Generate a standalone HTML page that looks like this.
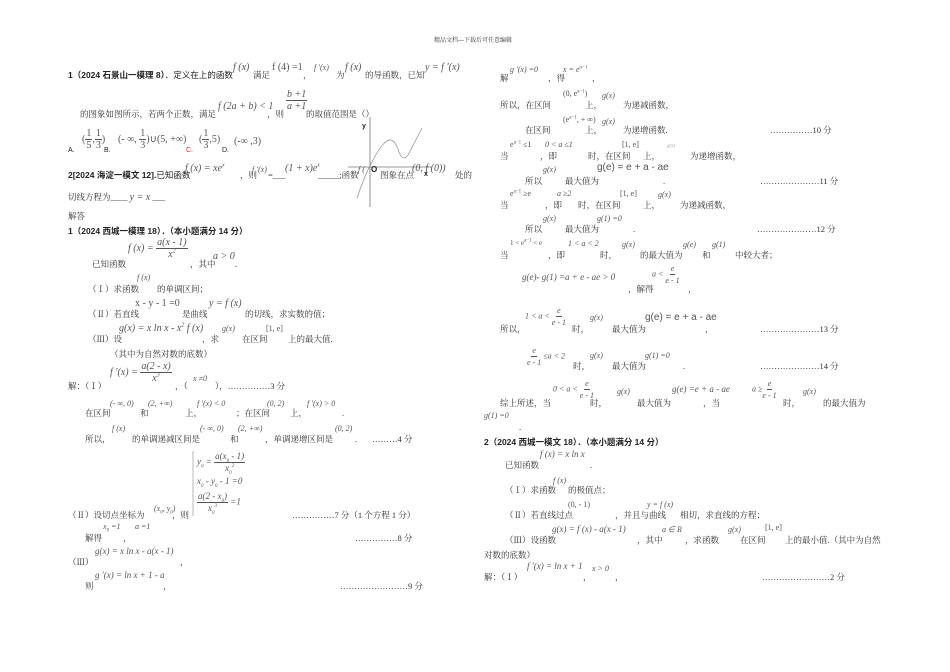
<!DOCTYPE html>
<html><head><meta charset="utf-8"><style>
body{margin:0;width:950px;height:672px;background:#fff;position:relative;overflow:hidden}
div{position:absolute;white-space:nowrap}
sub,sup{line-height:0}
.t{font-family:"Liberation Serif","Noto Serif CJK SC","Noto Sans CJK SC",serif;font-size:8.5px;color:#333;line-height:10px}
.b{font-family:"Liberation Sans","Noto Sans CJK SC",sans-serif;font-size:8.5px;color:#222;font-weight:bold;line-height:10px}
.m{font-family:"Liberation Serif",serif;font-style:italic;font-size:10px;color:#555;line-height:11px}
.f{display:inline-flex;flex-direction:column;align-items:center;vertical-align:middle}
.f>span:first-child{border-bottom:1px solid #555;padding:0 1px}
</style></head><body>
<div class="t" style="left:434px;top:36px;font-size:6px">精品文档---下载后可任意编辑</div>

<div class="b" style="left:68px;top:70px">1（2024 石景山一模理 8）<span style="font-weight:normal">．定义在上的函数</span></div>
<div class="m" style="left:233px;top:62px">f (x)</div>
<div class="t" style="left:253px;top:70px">满足</div>
<div class="m" style="left:272px;top:62px;font-style:normal">f (4) =1</div>
<div class="t" style="left:303px;top:70px">，</div>
<div class="m" style="left:314px;top:62px;font-size:8px">f ′(x)</div>
<div class="t" style="left:336px;top:70px">为</div>
<div class="m" style="left:345px;top:62px">f (x)</div>
<div class="t" style="left:365px;top:70px">的导函数，已知</div>
<div class="m" style="left:425px;top:62px">y = f ′(x)</div>

<div class="t" style="left:80px;top:109px">的图象如图所示，若两个正数，满足</div>
<div class="m" style="left:218px;top:101px">f (2a + b) &lt; 1</div>
<div class="t" style="left:267px;top:109px">，则</div>
<div class="m" style="left:286px;top:89px"><span class="f"><span>b +1</span><span>a +1</span></span></div>
<div class="t" style="left:306px;top:109px">的取值范围是（）</div>

<div class="m" style="left:82px;top:128px;font-style:normal">(<span class="f"><span>1</span><span>5</span></span>,<span class="f"><span>1</span><span>3</span></span>)</div>
<div class="m" style="left:118px;top:128px;font-style:normal">(- ∞, <span class="f"><span>1</span><span>3</span></span>)∪(5, +∞)</div>
<div class="m" style="left:199px;top:128px;font-style:normal">(<span class="f"><span>1</span><span>3</span></span>,5)</div>
<div class="m" style="left:234px;top:136px;font-style:normal">(-∞ ,3)</div>
<div class="b" style="left:68px;top:146px;font-weight:normal;font-size:7px">A.</div>
<div class="b" style="left:104px;top:146px;font-weight:normal;font-size:7px">B.</div>
<div class="b" style="left:186px;top:146px;font-weight:normal;font-size:7px;color:#c33">C.</div>
<div class="b" style="left:222px;top:146px;font-weight:normal;font-size:7px">D.</div>

<svg style="position:absolute;left:0;top:0" width="950" height="672">
<line x1="370" y1="117" x2="370" y2="207" stroke="#777" stroke-width="0.8"/>
<line x1="348" y1="167" x2="432" y2="167" stroke="#777" stroke-width="0.8"/>
<path d="M357 198 Q366 172 372 162 Q382 142 389 140 Q395 139 399 152 Q403 162 408 155 L422 128" fill="none" stroke="#999" stroke-width="0.8"/>
<line x1="193" y1="451" x2="193" y2="516" stroke="#999" stroke-width="0.7"/>
</svg>
<div class="b" style="left:362px;top:122px;font-size:7px">y</div>
<div class="b" style="left:371px;top:165px;font-size:8px">O</div>
<div class="b" style="left:424px;top:170px;font-size:7px">x</div>

<div class="b" style="left:68px;top:170px">2[2024 海淀一模文 12].<span style="font-weight:normal">已知函数</span></div>
<div class="m" style="left:185px;top:163px">f (x) = xe<sup style="font-size:6px">x</sup></div>
<div class="t" style="left:240px;top:170px">，则</div>
<div class="m" style="left:252px;top:164px;font-size:8px">f ′(x)</div>
<div class="t" style="left:268px;top:170px">=___</div>
<div class="m" style="left:285px;top:163px">(1 + x)e<sup style="font-size:6px">x</sup></div>
<div class="t" style="left:318px;top:170px">_____;函数</div>
<div class="m" style="left:358px;top:164px;font-size:8px">f (</div>
<div class="t" style="left:380px;top:170px">图象在点</div>
<div class="m" style="left:412px;top:163px">(0, f (0))</div>
<div class="t" style="left:455px;top:170px">处的</div>
<div class="t" style="left:68px;top:192px">切线方程为____ <span class="m">y = x</span> ___</div>
<div class="t" style="left:68px;top:211px">解答</div>
<div class="b" style="left:68px;top:226px">1（2024 西城一模理 18）．（本小题满分 14 分）</div>

<div class="m" style="left:128px;top:237px">f (x) = <span class="f"><span>a(x - 1)</span><span>x<sup style="font-size:6px">2</sup></span></span></div>
<div class="t" style="left:92px;top:259px">已知函数</div>
<div class="t" style="left:190px;top:259px">，其中</div>
<div class="m" style="left:213px;top:251px">a &gt; 0</div>
<div class="m" style="left:235px;top:259px">.</div>

<div class="m" style="left:137px;top:272px;font-size:8px">f (x)</div>
<div class="t" style="left:88px;top:284px">（Ⅰ）求函数</div>
<div class="t" style="left:157px;top:284px">的单调区间；</div>
<div class="m" style="left:135px;top:298px;font-style:normal">x - y - 1 =0</div>
<div class="m" style="left:209px;top:298px">y = f (x)</div>
<div class="t" style="left:88px;top:309px">（Ⅱ）若直线</div>
<div class="t" style="left:182px;top:309px">是曲线</div>
<div class="t" style="left:245px;top:309px">的切线，求实数的值；</div>
<div class="m" style="left:119px;top:323px">g(x) = x ln x - x<sup style="font-size:6px">2</sup> f (x)</div>
<div class="t" style="left:88px;top:334px">（Ⅲ）设</div>
<div class="t" style="left:202px;top:334px">，求</div>
<div class="m" style="left:222px;top:323px;font-size:8px">g(x)</div>
<div class="t" style="left:242px;top:334px">在区间</div>
<div class="m" style="left:266px;top:323px;font-style:normal;font-size:8px">[1, e]</div>
<div class="t" style="left:288px;top:334px">上的最大值.</div>
<div class="t" style="left:110px;top:349px">（其中为自然对数的底数）</div>

<div class="m" style="left:110px;top:361px">f ′(x) = <span class="f"><span>a(2 - x)</span><span>x<sup style="font-size:6px">3</sup></span></span></div>
<div class="t" style="left:68px;top:381px">解：（Ⅰ）</div>
<div class="t" style="left:175px;top:381px">，（</div>
<div class="m" style="left:193px;top:373px;font-size:8px">x ≠0</div>
<div class="t" style="left:215px;top:381px">），……………3 分</div>

<div class="m" style="left:110px;top:398px;font-size:8px">(- ∞, 0)</div>
<div class="m" style="left:148px;top:398px;font-size:8px">(2, +∞)</div>
<div class="m" style="left:197px;top:398px;font-size:8px">f ′(x) &lt; 0</div>
<div class="m" style="left:267px;top:398px;font-size:8px">(0, 2)</div>
<div class="m" style="left:307px;top:398px;font-size:8px">f ′(x) &gt; 0</div>
<div class="t" style="left:85px;top:408px">在区间</div>
<div class="t" style="left:140px;top:408px">和</div>
<div class="t" style="left:185px;top:408px">上，</div>
<div class="t" style="left:236px;top:408px">；在区间</div>
<div class="t" style="left:290px;top:408px">上，</div>
<div class="t" style="left:342px;top:408px">.</div>

<div class="m" style="left:112px;top:423px;font-size:8px">f (x)</div>
<div class="t" style="left:85px;top:434px">所以，</div>
<div class="t" style="left:132px;top:434px">的单调递减区间是</div>
<div class="m" style="left:200px;top:423px;font-size:8px">(- ∞, 0)</div>
<div class="t" style="left:230px;top:434px">和</div>
<div class="m" style="left:238px;top:423px;font-size:8px">(2, +∞)</div>
<div class="t" style="left:265px;top:434px">，单调递增区间是</div>
<div class="m" style="left:335px;top:423px;font-size:8px">(0, 2)</div>
<div class="t" style="left:355px;top:434px">.</div>
<div class="t" style="left:372px;top:434px">………4 分</div>

<div class="m" style="left:197px;top:451px;font-size:9px">y<sub style="font-size:5px">0</sub> = <span class="f"><span>a(x<sub style="font-size:5px">0</sub> - 1)</span><span>x<sub style="font-size:5px">0</sub><sup style="font-size:5px">2</sup></span></span></div>
<div class="m" style="left:197px;top:476px;font-size:9px">x<sub style="font-size:5px">0</sub> - y<sub style="font-size:5px">0</sub> - 1 =0</div>
<div class="m" style="left:197px;top:491px;font-size:9px"><span class="f"><span>a(2 - x<sub style="font-size:5px">0</sub>)</span><span>x<sub style="font-size:5px">0</sub><sup style="font-size:5px">3</sup></span></span> =1</div>
<div class="t" style="left:68px;top:510px">（Ⅱ）设切点坐标为</div>
<div class="m" style="left:154px;top:503px;font-size:8px">(x<sub style="font-size:5px">0</sub>, y<sub style="font-size:5px">0</sub>)</div>
<div class="t" style="left:172px;top:510px">，则</div>
<div class="t" style="left:292px;top:510px">……………7 分（1 个方程 1 分）</div>
<div class="m" style="left:103px;top:521px;font-size:8px">x<sub style="font-size:5px">0</sub> =1</div>
<div class="m" style="left:135px;top:521px;font-size:8px">a =1</div>
<div class="t" style="left:85px;top:533px">解得</div>
<div class="t" style="left:123px;top:533px">，</div>
<div class="t" style="left:355px;top:533px">……………8 分</div>
<div class="m" style="left:95px;top:546px;font-size:9px">g(x) = x ln x - a(x - 1)</div>
<div class="t" style="left:68px;top:557px">（Ⅲ）</div>
<div class="t" style="left:180px;top:557px">，</div>
<div class="m" style="left:95px;top:570px;font-size:9px">g ′(x) = ln x + 1 - a</div>
<div class="t" style="left:85px;top:581px">则</div>
<div class="t" style="left:163px;top:581px">，</div>
<div class="t" style="left:340px;top:581px">……………………9 分</div>

<div class="m" style="left:510px;top:64px;font-size:8px">g ′(x) =0</div>
<div class="t" style="left:500px;top:73px">解</div>
<div class="t" style="left:548px;top:73px">，得</div>
<div class="m" style="left:563px;top:64px;font-size:8px">x = e<sup style="font-size:5px">a−1</sup></div>
<div class="t" style="left:592px;top:73px">，</div>

<div class="m" style="left:563px;top:88px;font-size:8px;font-style:normal">(0, e<sup style="font-size:5px">a−1</sup>)</div>
<div class="m" style="left:602px;top:90px;font-size:8px">g(x)</div>
<div class="t" style="left:500px;top:100px">所以，在区间</div>
<div class="t" style="left:585px;top:100px">上，</div>
<div class="t" style="left:623px;top:100px">为递减函数，</div>
<div class="m" style="left:563px;top:114px;font-size:8px;font-style:normal">(e<sup style="font-size:5px">a−1</sup>, + ∞)</div>
<div class="m" style="left:602px;top:116px;font-size:8px">g(x)</div>
<div class="t" style="left:525px;top:125px">在区间</div>
<div class="t" style="left:585px;top:125px">上，</div>
<div class="t" style="left:623px;top:125px">为递增函数.</div>
<div class="t" style="left:770px;top:125px">……………10 分</div>

<div class="m" style="left:510px;top:139px;font-size:8px;font-style:normal">e<sup style="font-size:5px">a−1</sup> ≤1</div>
<div class="m" style="left:545px;top:139px;font-size:8px">0 &lt; a ≤1</div>
<div class="m" style="left:622px;top:139px;font-size:8px;font-style:normal">[1, e]</div>
<div class="m" style="left:667px;top:141px;font-size:5px;color:#aaa">g(x)</div>
<div class="t" style="left:500px;top:151px">当</div>
<div class="t" style="left:540px;top:151px">，即</div>
<div class="t" style="left:588px;top:151px">时，在区间</div>
<div class="t" style="left:643px;top:151px">上，</div>
<div class="t" style="left:690px;top:151px">为递增函数，</div>

<div class="m" style="left:543px;top:164px;font-size:8px">g(x)</div>
<div class="t" style="left:525px;top:176px">所以</div>
<div class="t" style="left:565px;top:176px">最大值为</div>
<div class="m" style="left:597px;top:162px;font-style:normal;font-family:'Liberation Sans',sans-serif">g(e) = e + a - ae</div>
<div class="t" style="left:663px;top:176px">.</div>
<div class="t" style="left:760px;top:176px">…………………11 分</div>

<div class="m" style="left:510px;top:188px;font-size:8px;font-style:normal">e<sup style="font-size:5px">a−1</sup> ≥e</div>
<div class="m" style="left:557px;top:188px;font-size:8px">a ≥2</div>
<div class="m" style="left:620px;top:188px;font-size:8px;font-style:normal">[1, e]</div>
<div class="m" style="left:658px;top:189px;font-size:8px">g(x)</div>
<div class="t" style="left:500px;top:200px">当</div>
<div class="t" style="left:545px;top:200px">，即</div>
<div class="t" style="left:578px;top:200px">时，在区间</div>
<div class="t" style="left:643px;top:200px">上，</div>
<div class="t" style="left:680px;top:200px">为递减函数，</div>

<div class="m" style="left:543px;top:213px;font-size:8px">g(x)</div>
<div class="m" style="left:597px;top:213px;font-size:8px">g(1) =0</div>
<div class="t" style="left:525px;top:224px">所以</div>
<div class="t" style="left:565px;top:224px">最大值为</div>
<div class="t" style="left:633px;top:224px">.</div>
<div class="t" style="left:757px;top:224px">…………………12 分</div>

<div class="m" style="left:510px;top:238px;font-size:7px;font-style:normal">1 &lt; e<sup style="font-size:5px">a−1</sup> &lt; e</div>
<div class="m" style="left:568px;top:238px;font-size:8px">1 &lt; a &lt; 2</div>
<div class="m" style="left:622px;top:239px;font-size:8px">g(x)</div>
<div class="m" style="left:683px;top:239px;font-size:8px">g(e)</div>
<div class="m" style="left:712px;top:239px;font-size:8px">g(1)</div>
<div class="t" style="left:500px;top:250px">当</div>
<div class="t" style="left:548px;top:250px">，即</div>
<div class="t" style="left:600px;top:250px">时，</div>
<div class="t" style="left:640px;top:250px">的最大值为</div>
<div class="t" style="left:702px;top:250px">和</div>
<div class="t" style="left:735px;top:250px">中较大者；</div>

<div class="m" style="left:522px;top:272px;font-size:9px">g(e)- g(1) =a + e - ae &gt; 0</div>
<div class="m" style="left:652px;top:263px;font-size:8px">a &lt; <span class="f"><span>e</span><span>e - 1</span></span></div>
<div class="t" style="left:628px;top:284px">，解得</div>
<div class="t" style="left:688px;top:284px">，</div>

<div class="m" style="left:525px;top:305px;font-size:8px">1 &lt; a &lt; <span class="f"><span>e</span><span>e - 1</span></span></div>
<div class="t" style="left:500px;top:324px">所以，</div>
<div class="t" style="left:572px;top:324px">时，</div>
<div class="m" style="left:590px;top:312px;font-size:8px">g(x)</div>
<div class="t" style="left:612px;top:324px">最大值为</div>
<div class="m" style="left:645px;top:312px;font-style:normal;font-family:'Liberation Sans',sans-serif">g(e) = e + a - ae</div>
<div class="t" style="left:705px;top:324px">，</div>
<div class="t" style="left:760px;top:324px">…………………13 分</div>

<div class="m" style="left:527px;top:345px;font-size:8px"><span class="f"><span>e</span><span>e - 1</span></span> ≤a &lt; 2</div>
<div class="m" style="left:590px;top:350px;font-size:8px">g(x)</div>
<div class="m" style="left:645px;top:350px;font-size:8px">g(1) =0</div>
<div class="t" style="left:573px;top:361px">时，</div>
<div class="t" style="left:612px;top:361px">最大值为</div>
<div class="t" style="left:683px;top:361px">.</div>
<div class="t" style="left:760px;top:361px">…………………14 分</div>

<div class="m" style="left:553px;top:378px;font-size:8px">0 &lt; a &lt; <span class="f"><span>e</span><span>e - 1</span></span></div>
<div class="m" style="left:617px;top:386px;font-size:8px">g(x)</div>
<div class="m" style="left:672px;top:384px;font-size:9px">g(e) =e + a - ae</div>
<div class="m" style="left:752px;top:378px;font-size:8px">a ≥<span class="f"><span>e</span><span>e - 1</span></span></div>
<div class="m" style="left:803px;top:386px;font-size:8px">g(x)</div>
<div class="t" style="left:500px;top:398px">综上所述，当</div>
<div class="t" style="left:590px;top:398px">时，</div>
<div class="t" style="left:637px;top:398px">最大值为</div>
<div class="t" style="left:703px;top:398px">，当</div>
<div class="t" style="left:783px;top:398px">时，</div>
<div class="t" style="left:823px;top:398px">的最大值为</div>
<div class="m" style="left:484px;top:410px;font-size:8px">g(1) =0</div>
<div class="t" style="left:519px;top:422px">.</div>

<div class="b" style="left:484px;top:437px">2（2024 西城一模文 18）．（本小题满分 14 分）</div>
<div class="m" style="left:540px;top:449px;font-size:9px">f (x) = x ln x</div>
<div class="t" style="left:505px;top:460px">已知函数</div>
<div class="t" style="left:590px;top:460px">.</div>
<div class="m" style="left:553px;top:475px;font-size:8px">f (x)</div>
<div class="t" style="left:505px;top:485px">（Ⅰ）求函数</div>
<div class="t" style="left:568px;top:485px">的极值点；</div>
<div class="m" style="left:568px;top:499px;font-size:8px;font-style:normal">(0, - 1)</div>
<div class="m" style="left:647px;top:499px;font-size:8px">y = f (x)</div>
<div class="t" style="left:505px;top:510px">（Ⅱ）若直线过点</div>
<div class="t" style="left:615px;top:510px">，并且与曲线</div>
<div class="t" style="left:680px;top:510px">相切，求直线的方程；</div>
<div class="m" style="left:552px;top:524px;font-size:9px">g(x) = f (x) - a(x - 1)</div>
<div class="m" style="left:662px;top:524px;font-size:8px">a ∈ R</div>
<div class="m" style="left:728px;top:524px;font-size:8px">g(x)</div>
<div class="m" style="left:765px;top:522px;font-size:8px;font-style:normal">[1, e]</div>
<div class="t" style="left:505px;top:535px">（Ⅲ）设函数</div>
<div class="t" style="left:637px;top:535px">，其中</div>
<div class="t" style="left:685px;top:535px">，求函数</div>
<div class="t" style="left:740px;top:535px">在区间</div>
<div class="t" style="left:785px;top:535px">上的最小值.（其中为自然</div>
<div class="t" style="left:484px;top:550px">对数的底数）</div>
<div class="m" style="left:527px;top:561px;font-size:9px">f ′(x) = ln x + 1</div>
<div class="m" style="left:592px;top:563px;font-size:8px">x &gt; 0</div>
<div class="t" style="left:484px;top:572px">解：（Ⅰ）</div>
<div class="t" style="left:583px;top:572px">，</div>
<div class="t" style="left:615px;top:572px">，</div>
<div class="t" style="left:762px;top:572px">……………………2 分</div>
</body></html>
